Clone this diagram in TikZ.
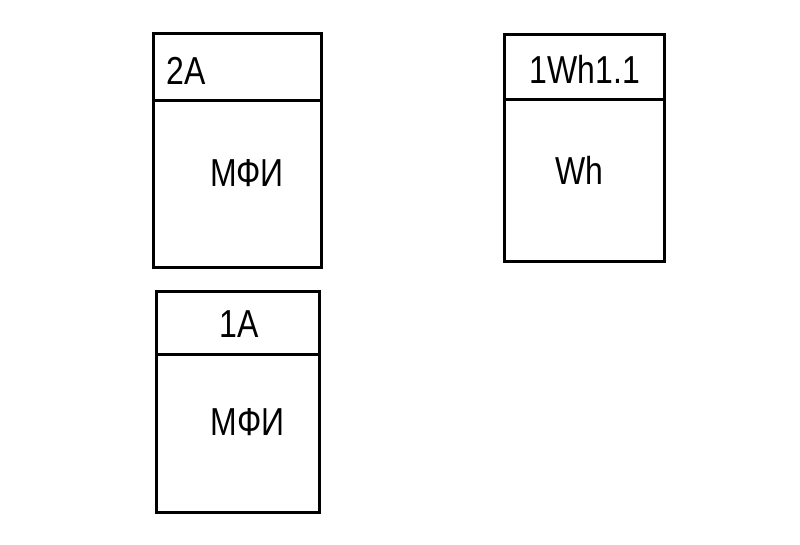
\documentclass[tikz,border=0pt]{standalone}
\usepackage{fontspec}
\setmainfont{Liberation Sans}[FakeStretch=0.82]
\usetikzlibrary{positioning}

\begin{document}
\begin{tikzpicture}[
        x=1pt, y=1pt,
        every path/.style={line width=3pt},
        headbox/.style={draw, rectangle, outer sep=0pt, inner sep=0pt, anchor=north west},
        bodybox/.style={draw, rectangle, outer sep=0pt, inner sep=0pt},
        txt/.style={inner sep=0pt, font=\fontsize{39}{44}\selectfont}
    ]
    \useasboundingbox (0,0) rectangle (800,544);

    % Nodes
    \node (h2a)[headbox, minimum width=168pt, minimum height=67pt] at (153,510) {};
    \node (b2a)[below=0pt of h2a, bodybox, minimum width=168pt, minimum height=167pt] {};

    \node (hwh)[headbox, minimum width=160pt, minimum height=65pt] at (504,509) {};
    \node (bwh)[below=0pt of hwh, bodybox, minimum width=160pt, minimum height=162pt] {};

    \node (h1a)[headbox, minimum width=163pt, minimum height=62pt] at (156,252) {};
    \node (b1a)[below=0pt of h1a, bodybox, minimum width=163pt, minimum height=158pt] {};

    % Texts
    \node (t2a)[txt, anchor=west] at ([xshift=12pt, yshift=-3pt]h2a.west) {2A};
    \node (m2a)[txt] at ([xshift=10pt, yshift=11pt]b2a.center) {МФИ};

    \node (twh)[txt] at ([xshift=1pt, yshift=-2pt]hwh.center) {1Wh1.1};
    \node (mwh)[txt] at ([xshift=-5pt, yshift=11pt]bwh.center) {Wh};

    \node (t1a)[txt] at ([xshift=2pt, yshift=-1pt]h1a.center) {1A};
    \node (m1a)[txt] at ([xshift=10pt, yshift=11pt]b1a.center) {МФИ};

\end{tikzpicture}
\end{document}
